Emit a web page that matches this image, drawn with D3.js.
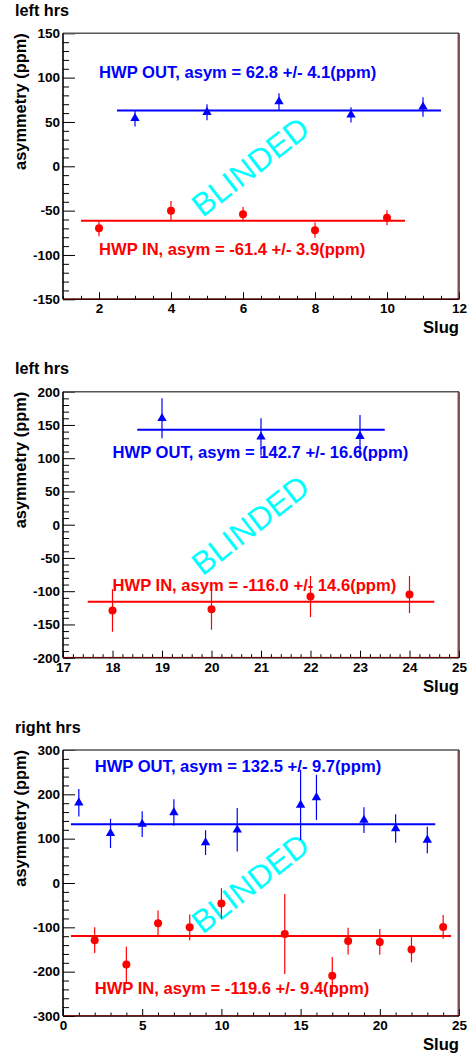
<!DOCTYPE html>
<html><head><meta charset="utf-8">
<script src="https://cdn.jsdelivr.net/npm/d3@7"></script>
<style>body{margin:0;background:#fff}svg{display:block}</style>
</head><body>
<script>
// ---------- data ----------
const titles = ["left hrs", "left hrs", "right hrs"];

const p1OutX = [3, 5, 7, 9, 11];
const p1OutY = [54, 61, 73, 58, 67];
const p1OutErr = [9, 9, 9.5, 8.5, 11];
const p1InX = [2, 4, 6, 8, 10];
const p1InY = [-70, -50, -54, -72, -58];
const p1InErr = [9, 11, 8, 8.5, 8.5];
const p1Fit = {out: 62.8, outErr: 4.1, outRange: [2.5, 11.5], in: -61.4, inErr: 3.9, inRange: [1.5, 10.5]};

const p2OutX = [19, 21, 23];
const p2OutY = [160, 132, 133];
const p2OutErr = [30, 28, 32];
const p2InX = [18, 20, 22, 24];
const p2InY = [-129, -127, -108, -105];
const p2InErr = [32, 31, 31, 28];
const p2Fit = {out: 142.7, outErr: 16.6, outRange: [18.5, 23.5], in: -116.0, inErr: 14.6, inRange: [17.5, 24.5]};

const p3OutX = [1, 3, 5, 7, 9, 11, 15, 16, 19, 21, 23];
const p3OutY = [181, 112, 133, 159, 91, 120, 176, 193, 142, 123, 97];
const p3OutErr = [31, 33, 29, 30, 28, 49, 79, 51, 29, 32, 30];
const p3InX = [2, 4, 6, 8, 10, 14, 17, 18, 20, 22, 24];
const p3InY = [-129, -184, -91, -100, -46, -115, -209, -131, -133, -150, -99];
const p3InErr = [29, 40, 29, 29, 34, 90, 42, 30, 29, 29, 27];
const p3Fit = {out: 132.5, outErr: 9.7, outRange: [0.5, 23.5], in: -119.6, inErr: 9.4, inRange: [0.5, 24.5]};

const xDomains = [[1, 12], [17, 25], [0, 25]];
const yDomains = [[-150, 150], [-200, 200], [-300, 300]];
const xMajor = [[2, 4, 6, 8, 10, 12], [17, 18, 19, 20, 21, 22, 23, 24, 25], [0, 5, 10, 15, 20, 25]];
const xMinorStep = [0.5, 0.2, 1];
const yMajor = [[-150, -100, -50, 0, 50, 100, 150], [-200, -150, -100, -50, 0, 50, 100, 150, 200], [-300, -200, -100, 0, 100, 200, 300]];
const yMinorStep = [10, 10, 20];
const labelPos = [[2, 100, -100], [18, 100, -100], [2, 250, -250]];

// ---------- layout ----------
const W = 473, H = 1057;
const frameL = 63, frameR = 459;
const frameTops = [33.3, 391.7, 750];
const frameBots = [299.3, 657.7, 1016];
const BLUE = "#0000ff", RED = "#ff0000", CYAN = "#00ffff";
const FONT = "'Liberation Sans', Arial, Helvetica, sans-serif";

const svg = d3.select("body").append("svg").attr("width", W).attr("height", H)
  .style("font-family", FONT);

const panels = [
  {out: [p1OutX, p1OutY, p1OutErr], inn: [p1InX, p1InY, p1InErr], fit: p1Fit},
  {out: [p2OutX, p2OutY, p2OutErr], inn: [p2InX, p2InY, p2InErr], fit: p2Fit},
  {out: [p3OutX, p3OutY, p3OutErr], inn: [p3InX, p3InY, p3InErr], fit: p3Fit}
];

function range(a, b, step) {
  const out = []; const n = Math.round((b - a) / step);
  for (let i = 0; i <= n; i++) out.push(+(a + i * step).toFixed(6));
  return out;
}
const fmt = d => String(d);

panels.forEach((p, i) => {
  const top = frameTops[i], bot = frameBots[i];
  const x = d3.scaleLinear().domain(xDomains[i]).range([frameL, frameR]);
  const y = d3.scaleLinear().domain(yDomains[i]).range([bot, top]);
  const g = svg.append("g");

  // title
  g.append("text").attr("x", 15).attr("y", top - 17.5).text(titles[i])
    .style("font-weight", "bold").style("font-size", "16.2px");

  // minor ticks
  const xMin = range(xDomains[i][0], xDomains[i][1], xMinorStep[i]).filter(v => !xMajor[i].includes(v));
  const yMin = range(yDomains[i][0], yDomains[i][1], yMinorStep[i]).filter(v => !yMajor[i].includes(v));

  const xAxisMinor = d3.axisBottom(x).tickValues(xMin).tickSize(-3.5).tickFormat("");
  const xAxisMajor = d3.axisBottom(x).tickValues(xMajor[i]).tickSize(-7).tickPadding(4.5).tickFormat(fmt);
  const yAxisMinor = d3.axisLeft(y).tickValues(yMin).tickSize(-6).tickFormat("");
  const yAxisMajor = d3.axisLeft(y).tickValues(yMajor[i]).tickSize(-12).tickPadding(3).tickFormat(fmt);

  [xAxisMinor, xAxisMajor].forEach(ax => {
    const a = g.append("g").attr("transform", `translate(0,${bot})`).call(ax);
    a.select(".domain").remove();
    a.selectAll(".tick line").attr("stroke", "#000").attr("stroke-width", 1);
    a.selectAll("text").style("font-size", "13.5px").style("font-weight", "bold").attr("fill", "#000")
      .attr("dy", "0.71em");
  });
  [yAxisMinor, yAxisMajor].forEach(ax => {
    const a = g.append("g").attr("transform", `translate(${frameL},0)`).call(ax);
    a.select(".domain").remove();
    a.selectAll(".tick line").attr("stroke", "#000").attr("stroke-width", 1);
    a.selectAll("text").style("font-size", "13.5px").style("font-weight", "bold").attr("fill", "#000");
  });

  // frame
  g.append("line").attr("x1", frameL).attr("x2", frameR).attr("y1", top).attr("y2", top)
    .attr("stroke", "#555").attr("stroke-width", 1.6);
  g.append("line").attr("x1", frameR).attr("x2", frameR).attr("y1", top).attr("y2", bot)
    .attr("stroke", "#222").attr("stroke-width", 1.4);
  g.append("line").attr("x1", frameR - 1.2).attr("x2", frameR - 1.2).attr("y1", top + 1).attr("y2", bot)
    .attr("stroke", RED).attr("stroke-width", 0.8).attr("opacity", 0.8);
  g.append("line").attr("x1", frameL).attr("x2", frameL).attr("y1", top).attr("y2", bot)
    .attr("stroke", "#000").attr("stroke-width", 1.6);
  g.append("line").attr("x1", frameL).attr("x2", frameR).attr("y1", bot).attr("y2", bot)
    .attr("stroke", "#000").attr("stroke-width", 1.6);
  g.append("line").attr("x1", frameL).attr("x2", frameR).attr("y1", bot - 0.3).attr("y2", bot - 0.3)
    .attr("stroke", "#8b0000").attr("stroke-width", 0.8);

  // axis titles
  g.append("text").attr("transform", `translate(26,${top}) rotate(-90)`)
    .attr("text-anchor", "end").text("asymmetry (ppm)")
    .style("font-weight", "bold").style("font-size", "16.4px");
  g.append("text").attr("x", frameR).attr("y", bot + 34).attr("text-anchor", "end").text("Slug")
    .style("font-weight", "bold").style("font-size", "16.6px");

  // BLINDED watermark
  const cx = (frameL + frameR) / 2 - 11;
  const cy = (top + bot) / 2;
  g.append("text").attr("transform", `translate(${cx},${cy}) rotate(-38)`)
    .attr("text-anchor", "middle").attr("dy", "0.36em").text("BLINDED")
    .attr("fill", CYAN).style("font-size", "32px");

  // fit lines
  const f = p.fit;
  g.append("line").attr("x1", x(f.outRange[0])).attr("x2", x(f.outRange[1]))
    .attr("y1", y(f.out)).attr("y2", y(f.out)).attr("stroke", BLUE).attr("stroke-width", 2);
  g.append("line").attr("x1", x(f.inRange[0])).attr("x2", x(f.inRange[1]))
    .attr("y1", y(f.in)).attr("y2", y(f.in)).attr("stroke", RED).attr("stroke-width", 2);

  // series
  const series = [
    {d: p.out, color: BLUE, tri: true},
    {d: p.inn, color: RED, tri: false}
  ];
  series.forEach(s => {
    const [xs, ys, es] = s.d;
    const pts = xs.map((xv, k) => ({x: xv, y: ys[k], e: es[k]}));
    g.selectAll(null).data(pts).enter().append("line")
      .attr("x1", d => x(d.x)).attr("x2", d => x(d.x))
      .attr("y1", d => y(d.y - d.e)).attr("y2", d => y(d.y + d.e))
      .attr("stroke", s.color).attr("stroke-width", 1.2);
    if (s.tri) {
      g.selectAll(null).data(pts).enter().append("path")
        .attr("transform", d => `translate(${x(d.x)},${y(d.y)})`)
        .attr("d", d3.symbol(d3.symbolTriangle, 38)())
        .attr("fill", s.color);
    } else {
      g.selectAll(null).data(pts).enter().append("circle")
        .attr("cx", d => x(d.x)).attr("cy", d => y(d.y)).attr("r", 4)
        .attr("fill", s.color);
    }
  });

  // annotation labels
  const lp = labelPos[i];
  g.append("text").attr("x", x(lp[0])).attr("y", y(lp[1]))
    .text(`HWP OUT, asym = ${f.out.toFixed(1)} +/- ${f.outErr.toFixed(1)}(ppm)`)
    .attr("fill", BLUE).style("font-weight", "bold").style("font-size", "16.6px");
  g.append("text").attr("x", x(lp[0])).attr("y", y(lp[2]))
    .text(`HWP IN, asym = ${f.in.toFixed(1)} +/- ${f.inErr.toFixed(1)}(ppm)`)
    .attr("fill", RED).style("font-weight", "bold").style("font-size", "16.6px");
});
</script>
</body></html>
